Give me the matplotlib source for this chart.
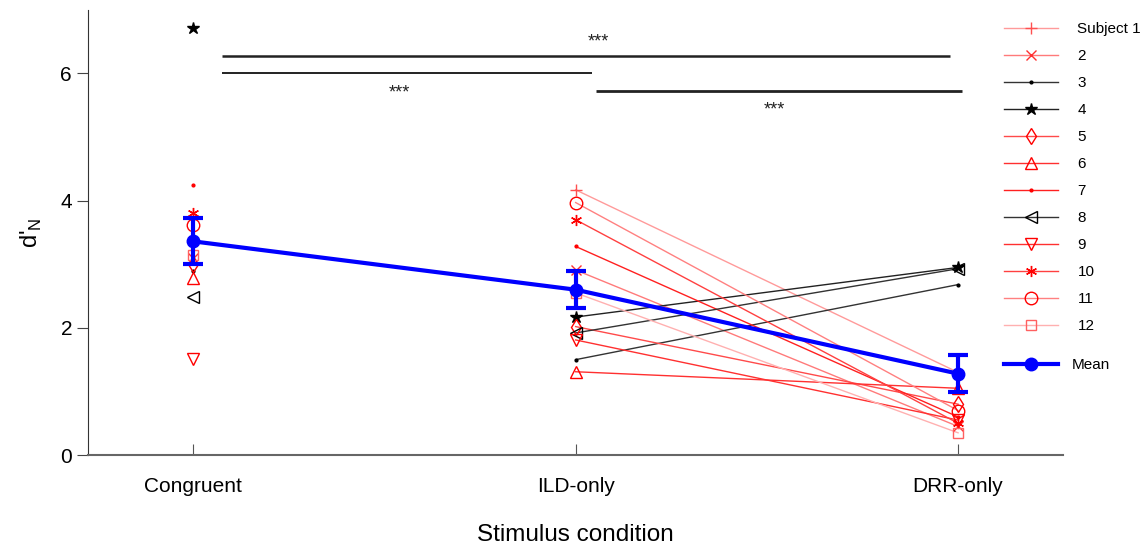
import matplotlib
matplotlib.use("Agg")
import matplotlib.pyplot as plt
from matplotlib.lines import Line2D
import numpy as np

plt.rcParams['font.family'] = ['Liberation Sans', 'DejaVu Sans']

conditions = ["Congruent", "ILD-only", "DRR-only"]
subjects = ["Subject 1", "2", "3", "4", "5", "6", "7", "8", "9", "10", "11", "12"]

# d'_N per subject (Congruent, ILD-only, DRR-only)
s1 = [3.75, 4.17, 1.30]
s2 = [3.10, 2.91, 0.45]
s3 = [2.90, 1.50, 2.68]
s4 = [6.72, 2.17, 2.95]
s5 = [3.00, 2.02, 0.80]
s6 = [2.79, 1.31, 1.05]
s7 = [4.24, 3.28, 0.60]
s8 = [2.49, 1.92, 2.93]
s9 = [1.51, 1.81, 0.55]
s10 = [3.81, 3.70, 0.50]
s11 = [3.62, 3.97, 0.70]
s12 = [3.15, 2.55, 0.35]

mean_vals = [3.36, 2.60, 1.28]
mean_err = [0.36, 0.29, 0.29]

# significance bars: (x start, x end, y), label position
sig_lines = [(1.076, 2.979, 6.27), (1.076, 2.043, 6.00), (2.054, 3.010, 5.72)]
sig_text = [(2.06, 6.50), (1.54, 5.70), (2.52, 5.43)]

data = [s1, s2, s3, s4, s5, s6, s7, s8, s9, s10, s11, s12]
markers = ['+', 'x', '.', '*', 'd', '^', '.', '<', 'v', (6, 2, 0), 'o', 's']
colors = ['#ff9a9a', '#ff7a7a', '#333333', '#222222', '#ff4a4a', '#ff3030',
          '#ff2020', '#333333', '#ff3030', '#ff4040', '#ff8080', '#ffb0b0']
mcolors = ['#ff5050', '#ff3030', 'black', 'black', 'red', 'red',
           'red', 'black', 'red', 'red', 'red', '#ff6060']
msizes = [8, 7, 4, 9, 8, 9, 4, 9, 9, 8, 9, 7]

fig = plt.figure(figsize=(11.46, 5.45), dpi=100)
ax = fig.add_axes([0.0768, 0.165, 0.851, 0.817])

x = np.array([1, 2, 3])
handles = []
for vals, m, c, mc, ms, name in zip(data, markers, colors, mcolors, msizes, subjects):
    filled = m in ('*', '.')
    # congruent shown as a lone point, ILD -> DRR connected
    ax.plot(x[1:], vals[1:], '-', color=c, lw=1.0, zorder=2)
    ax.plot(x, vals, linestyle='none', marker=m, markersize=ms,
            markerfacecolor=mc if filled else 'none', markeredgecolor=mc,
            markeredgewidth=1.0, zorder=3)
    handles.append(Line2D([], [], color=c, lw=1.0, marker=m, markersize=ms,
                          markerfacecolor=mc if filled else 'none',
                          markeredgecolor=mc, markeredgewidth=1.0, label=name))

ax.errorbar(x, mean_vals, yerr=mean_err, color='#0000ff', lw=3, marker='o',
            markersize=9, capsize=7, capthick=3, elinewidth=3, zorder=5)
mean_handle = Line2D([], [], color='#0000ff', lw=3, marker='o', markersize=9,
                     label='Mean')

for (x0, x1, yy), lw in zip(sig_lines, [1.8, 1.4, 2.0]):
    ax.plot([x0, x1], [yy, yy], color='#222222', lw=lw, solid_capstyle='butt')
for tx, ty in sig_text:
    ax.text(tx, ty, '***', ha='center', va='center', fontsize=13, color='#222222')

ax.set_xlim(0.725, 3.275)
ax.set_ylim(0, 7)
ax.set_xticks(x)
ax.set_xticklabels(conditions)
ax.set_yticks([0, 2, 4, 6])
ax.tick_params(axis='x', direction='in', length=8, color='#555555', labelsize=15, pad=16)
ax.tick_params(axis='y', direction='out', length=8, color='#444444', labelsize=15)
for side in ['top', 'right']:
    ax.spines[side].set_visible(False)
ax.spines['left'].set_color('#333333')
ax.spines['bottom'].set_color('#666666')
ax.spines['bottom'].set_linewidth(1.5)

ax.set_xlabel('Stimulus condition', fontsize=17.5, labelpad=20)
ax.set_ylabel("d'$_\\mathregular{N}$", fontsize=17, labelpad=12)

leg = ax.legend(handles=handles, loc='upper left', bbox_to_anchor=(0.930, 0.993),
                frameon=False, fontsize=11, handlelength=3.5, handletextpad=1.3,
                labelspacing=0.85, borderaxespad=0.2)
ax.add_artist(leg)
ax.legend(handles=[mean_handle], loc='upper left', bbox_to_anchor=(0.930, 0.238),
          frameon=False, fontsize=11, handlelength=3.5, handletextpad=0.9,
          borderaxespad=0.2)

fig.savefig('out.png', dpi=100)
